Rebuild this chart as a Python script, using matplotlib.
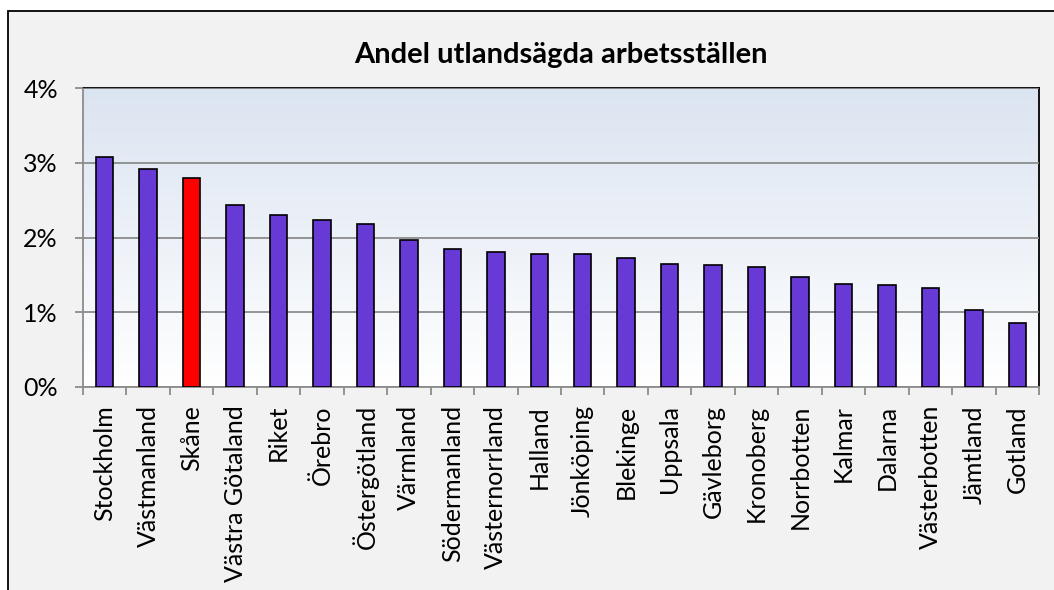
import numpy as np
import matplotlib
matplotlib.use('Agg')
import matplotlib.pyplot as plt
from matplotlib.patches import Rectangle
from matplotlib.ticker import FixedLocator, PercentFormatter

# Data (percent)
regions = ['Stockholm', 'Västmanland', 'Skåne', 'Västra Götaland', 'Riket',
           'Örebro', 'Östergötland', 'Värmland', 'Södermanland', 'Västernorrland',
           'Halland', 'Jönköping', 'Blekinge', 'Uppsala', 'Gävleborg',
           'Kronoberg', 'Norrbotten', 'Kalmar', 'Dalarna', 'Västerbotten',
           'Jämtland', 'Gotland']
shares = [3.08, 2.91, 2.80, 2.43, 2.30, 2.23, 2.18, 1.96, 1.84, 1.80,
          1.78, 1.78, 1.73, 1.64, 1.63, 1.60, 1.47, 1.38, 1.37, 1.32,
          1.03, 0.85]
highlight = 'Skåne'
y_ticks = [0, 1, 2, 3, 4]

plt.rcParams['font.family'] = ['Lato', 'DejaVu Sans']

fig = plt.figure(figsize=(10.54, 5.9), dpi=100)
fig.patch.set_facecolor('white')

# outer chart frame (grey fill, black border on top/left)
frame = Rectangle((8 / 1054, -0.1), 1.2, 1 - 11 / 590 + 0.1,
                  transform=fig.transFigure, facecolor='#f2f2f2',
                  edgecolor='black', linewidth=1.3, zorder=-10)
fig.patches.append(frame)

ax = fig.add_axes([83 / 1054, 1 - 387 / 590, (1039 - 83) / 1054, (387 - 88) / 590])
ax.set_zorder(5)
ax.set_facecolor('white')

x = np.arange(len(regions))
ax.set_xlim(-0.5, len(regions) - 0.5)
ax.set_ylim(0, 4)

# gradient background: light blue at top fading to white
grad = np.linspace(0, 1, 256).reshape(-1, 1)
cmap = matplotlib.colors.LinearSegmentedColormap.from_list('bg', ['white', '#dbe4f1'])
ax.imshow(grad, cmap=cmap, aspect='auto', origin='lower',
          extent=(-0.5, len(regions) - 0.5, 0, 4), zorder=0)

colors = ['#ff0000' if r == highlight else '#673ad6' for r in regions]
ax.bar(x, shares, width=0.4, color=colors, edgecolor='black', linewidth=1.2, zorder=3)

ax.yaxis.set_major_locator(FixedLocator(y_ticks))
ax.yaxis.set_major_formatter(PercentFormatter(decimals=0))
ax.grid(axis='y', color='#8c8c8c', linewidth=1.3, zorder=1)
ax.set_axisbelow(False)

ax.set_xticks(x)
ax.set_xticklabels(regions, rotation=90)
ax.set_xticks(np.arange(-0.5, len(regions)), minor=True)
ax.tick_params(axis='x', which='major', length=0, pad=13, labelsize=18)
ax.tick_params(axis='x', which='minor', length=6, width=1.3, color='#8c8c8c')
ax.tick_params(axis='y', length=6, width=1.3, color='#8c8c8c', labelsize=18, pad=12)

for side in ['left', 'bottom']:
    ax.spines[side].set_color('#8c8c8c')
    ax.spines[side].set_linewidth(1.3)
for side in ['top', 'right']:
    ax.spines[side].set_color('black')
    ax.spines[side].set_linewidth(1.3)

fig.text(0.5 * (83 + 1039) / 1054, 1 - 55 / 590, 'Andel utlandsägda arbetsställen',
         ha='center', va='center', fontsize=21, fontweight='bold')

fig.savefig('out.png', dpi=100)
